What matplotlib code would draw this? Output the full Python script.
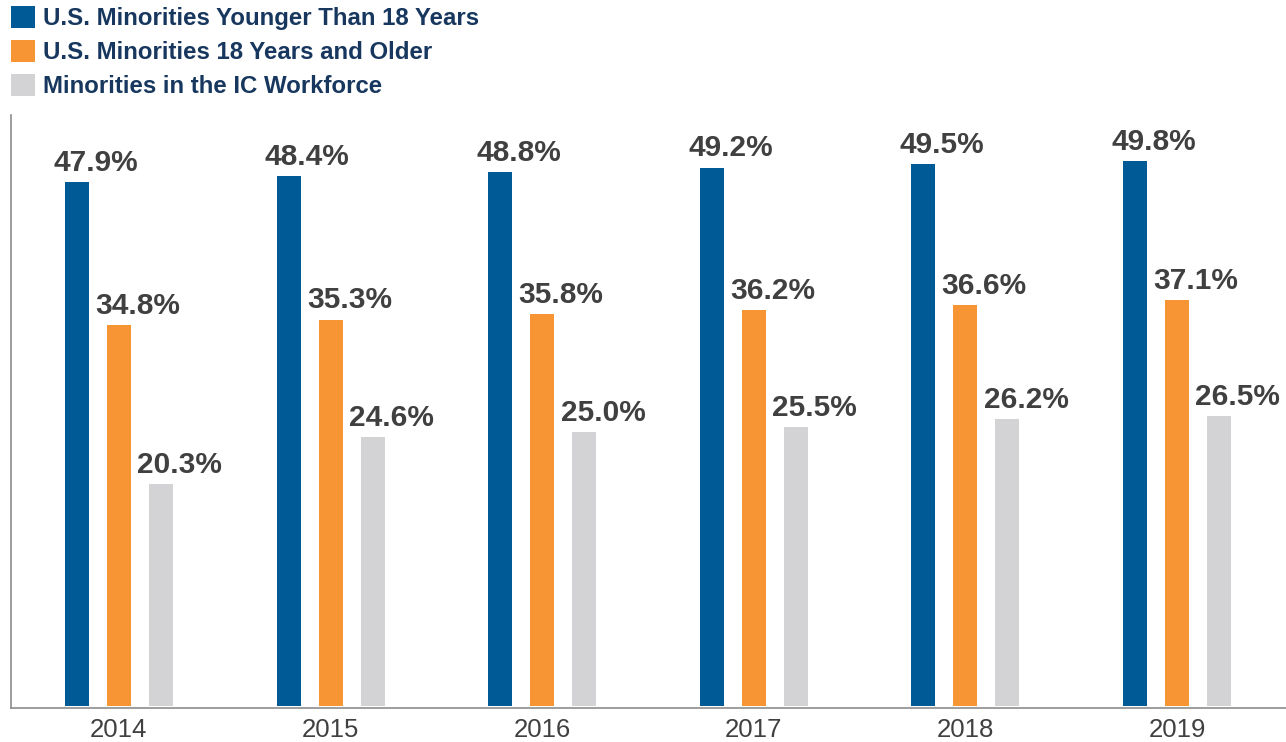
import matplotlib.pyplot as plt
import numpy as np

plt.rcParams['font.family'] = ['Liberation Sans', 'DejaVu Sans']

# data
years = ['2014', '2015', '2016', '2017', '2018', '2019']
under18 = [47.9, 48.4, 48.8, 49.2, 49.5, 49.8]
over18 = [34.8, 35.3, 35.8, 36.2, 36.6, 37.1]
ic_workforce = [20.3, 24.6, 25.0, 25.5, 26.2, 26.5]
series_names = ['U.S. Minorities Younger Than 18 Years',
                'U.S. Minorities 18 Years and Older',
                'Minorities in the IC Workforce']

colors = ['#005a96', '#f79433', '#d3d3d5']
W, H = 1286, 742
fig = plt.figure(figsize=(W/100, H/100), dpi=100)
ax = fig.add_axes([11/W, (H-708)/H, (W-11)/W, (708-115)/H])

x = np.arange(len(years))
offset = 42/211.6
width = 24/211.6
series = [under18, over18, ic_workforce]
handles = []
for k, (vals, c, name) in enumerate(zip(series, colors, series_names)):
    pos = x + (k-1)*offset
    b = ax.bar(pos, vals, width=width, color=c, label=name)
    handles.append(b)
    for xp, v in zip(pos, vals):
        ax.annotate('%.1f%%' % v, (xp, v), xytext=(13.5, 8), textcoords='offset points',
                    ha='center', va='baseline', fontsize=21.5, fontweight='bold', color='#404040')

ax.set_xlim(-0.51, 5.515)
ax.set_ylim(-0.2, 54)
ax.set_xticks(x)
ax.set_xticklabels(years, fontsize=18.5, color='#404040')
ax.tick_params(axis='x', length=0, pad=7)
ax.set_yticks([])
for s in ['top', 'right']:
    ax.spines[s].set_visible(False)
for s in ['left', 'bottom']:
    ax.spines[s].set_color('#8c8c8c')
    ax.spines[s].set_linewidth(1.2)

leg = fig.legend(handles=handles, loc='upper left', bbox_to_anchor=(11/W, 1-6/H),
                 frameon=False, borderpad=0, borderaxespad=0,
                 handlelength=1.0, handleheight=1.0, handletextpad=0.33,
                 labelspacing=0.42, prop={'size': 17.3, 'weight': 'bold'})
for t in leg.get_texts():
    t.set_color('#17375e')

plt.savefig('out.png', dpi=100)
